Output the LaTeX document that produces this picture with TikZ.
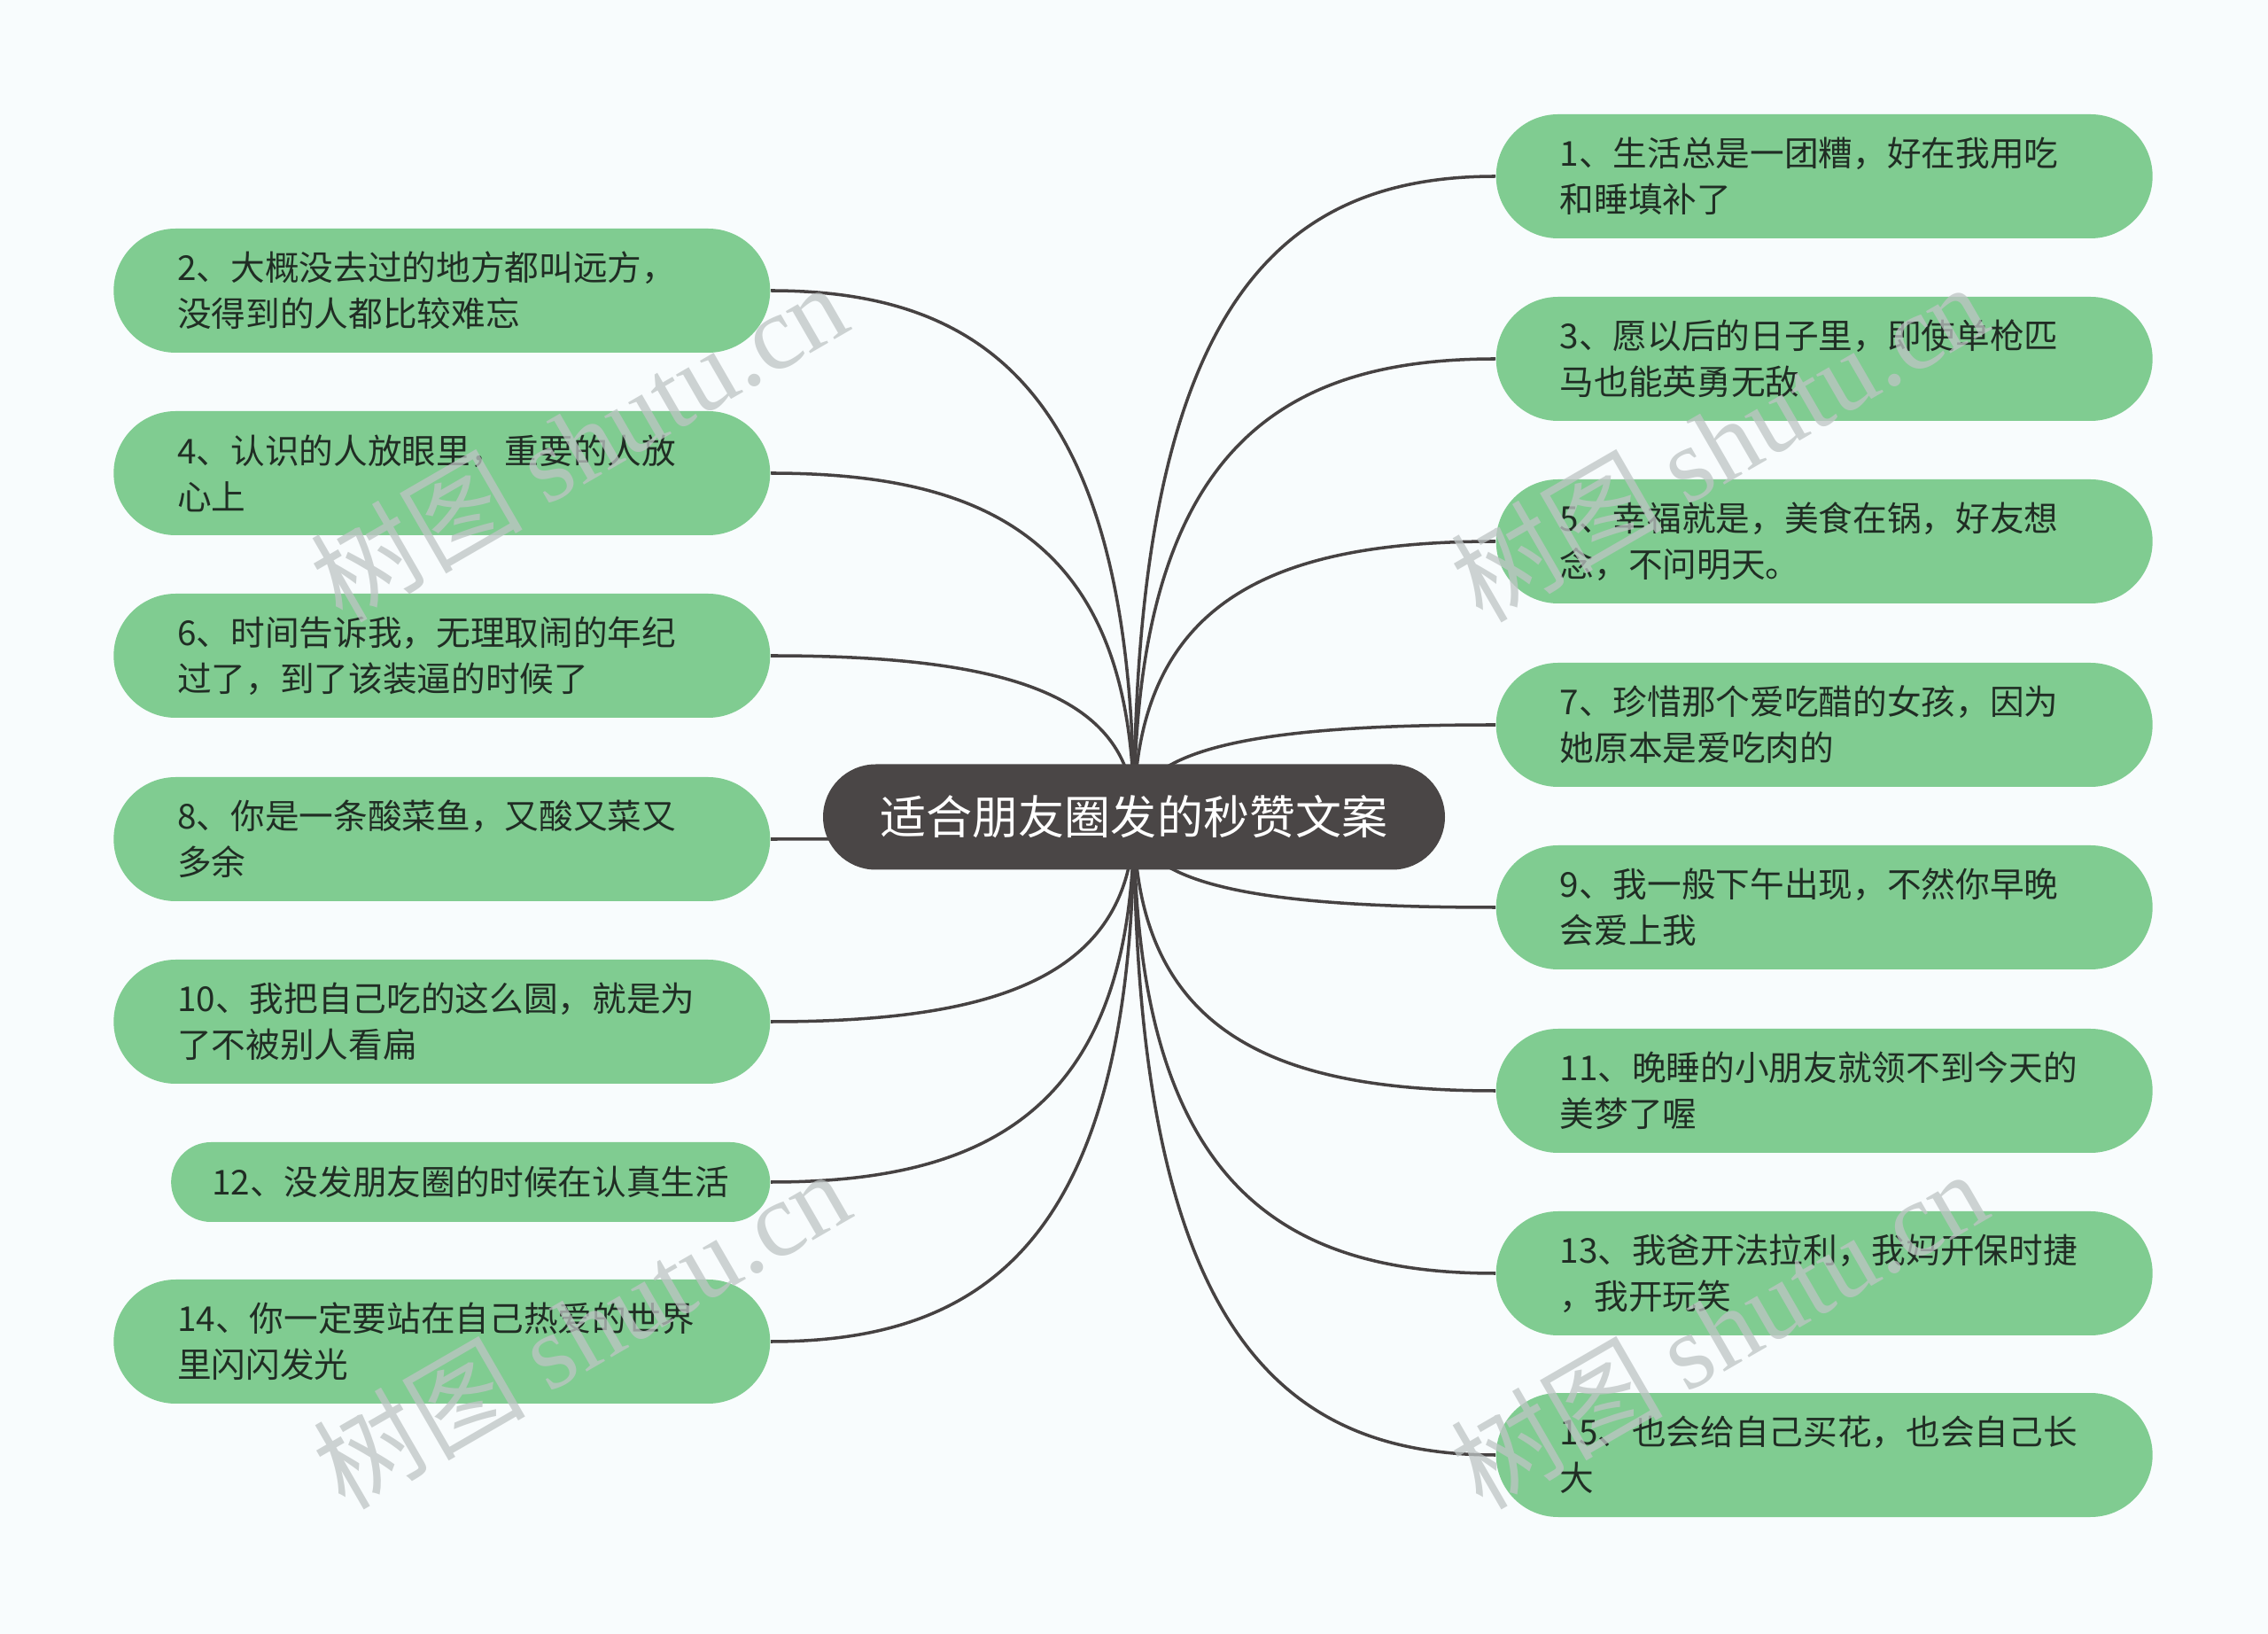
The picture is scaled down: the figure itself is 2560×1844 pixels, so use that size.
\documentclass[tikz,border=0pt]{standalone}
\usepackage{fontspec}
\setmainfont{Noto Sans CJK SC}
\newfontfamily\wmlatin{Liberation Serif}
\usepackage{tikz}
\usetikzlibrary{calc}
\definecolor{MapPaper}{RGB}{248, 252, 253}
\definecolor{MapGreen}{RGB}{128, 204, 145}
\definecolor{MapInk}{RGB}{32, 45, 36}
\definecolor{MapHub}{RGB}{74, 70, 70}
\definecolor{MapWire}{RGB}{70, 66, 66}
\definecolor{MapStamp}{RGB}{190, 196, 196}
\pgfdeclarelayer{paper}
\pgfdeclarelayer{wires}
\pgfsetlayers{paper,wires,main}
\tikzset{
  leaf/.style={fill=MapGreen, text=MapInk, rounded corners=7mm, minimum height=14mm,
    text width=59.7mm, inner xsep=7.2mm, inner ysep=0pt, align=left,
    font=\fontsize{11}{14.8}\selectfont},
  shortleaf/.style={fill=MapGreen, text=MapInk, rounded corners=4.5mm, minimum height=9mm,
    inner xsep=4.6mm, inner ysep=0pt, font=\fontsize{11}{14.8}\selectfont},
  hub/.style={fill=MapHub, text=white, rounded corners=5.95mm, minimum width=70.2mm,
    minimum height=11.9mm, font=\fontsize{14.8}{18}\selectfont},
  wire/.style={MapWire, line width=1pt},
  stamp/.style={MapStamp, opacity=0.75, rotate=30, font=\fontsize{34}{34}\selectfont}
}
\begin{document}
\begin{tikzpicture}[x=0.1mm,y=-0.1mm]
  \useasboundingbox (0,0) rectangle (2560,1844);
  \begin{pgfonlayer}{paper}
    \fill[MapPaper] (0,0) rectangle (2560,1844);
  \end{pgfonlayer}

  \node[hub] (hub) at (1280,922) {适合朋友圈发的秒赞文案};

  % right side
  \node[leaf, anchor=west] (r1) at (1688,199) {1、生活总是一团糟，好在我用吃\\和睡填补了};
  \node[leaf, anchor=west] (r3) at (1688,405) {3、愿以后的日子里，即使单枪匹\\马也能英勇无敌};
  \node[leaf, anchor=west] (r5) at (1688,611) {5、幸福就是，美食在锅，好友想\\念，不问明天。};
  \node[leaf, anchor=west] (r7) at (1688,818) {7、珍惜那个爱吃醋的女孩，因为\\她原本是爱吃肉的};
  \node[leaf, anchor=west] (r9) at (1688,1024) {9、我一般下午出现，不然你早晚\\会爱上我};
  \node[leaf, anchor=west] (r11) at (1688,1231) {11、晚睡的小朋友就领不到今天的\\美梦了喔};
  \node[leaf, anchor=west] (r13) at (1688,1437) {13、我爸开法拉利，我妈开保时捷\\，我开玩笑};
  \node[leaf, anchor=west] (r15) at (1688,1642) {15、也会给自己买花，也会自己长\\大};

  % left side
  \node[leaf, anchor=east] (l2) at (870,328) {2、大概没去过的地方都叫远方，\\没得到的人都比较难忘};
  \node[leaf, anchor=east] (l4) at (870,534) {4、认识的人放眼里，重要的人放\\心上};
  \node[leaf, anchor=east] (l6) at (870,740) {6、时间告诉我，无理取闹的年纪\\过了，到了该装逼的时候了};
  \node[leaf, anchor=east] (l8) at (870,947) {8、你是一条酸菜鱼，又酸又菜又\\多余};
  \node[leaf, anchor=east] (l10) at (870,1153) {10、我把自己吃的这么圆，就是为\\了不被别人看扁};
  \node[shortleaf, anchor=east] (l12) at (870,1334) {12、没发朋友圈的时候在认真生活};
  \node[leaf, anchor=east] (l14) at (870,1514) {14、你一定要站在自己热爱的世界\\里闪闪发光};

  \begin{pgfonlayer}{wires}
    \foreach \leafname in {r1,r3,r5,r7,r9,r11,r13,r15}
      \draw[wire] let \p1=(hub.center), \p2=(\leafname.west) in
        (\p1) .. controls (\x1,{\y1+0.8*(\y2-\y1)}) and ({\x1+0.4*(\x2-\x1)},\y2) .. (\p2);
    \foreach \leafname in {l2,l4,l6,l8,l10,l12,l14}
      \draw[wire] let \p1=(hub.center), \p2=(\leafname.east) in
        (\p1) .. controls (\x1,{\y1+0.8*(\y2-\y1)}) and ({\x1+0.4*(\x2-\x1)},\y2) .. (\p2);
  \end{pgfonlayer}

  % watermark
  \node[stamp] (wm1) at (653,498) {树图 {\wmlatin shutu.cn}};
  \node[stamp] (wm2) at (1940,498) {树图 {\wmlatin shutu.cn}};
  \node[stamp] (wm3) at (656,1499) {树图 {\wmlatin shutu.cn}};
  \node[stamp] (wm4) at (1940,1499) {树图 {\wmlatin shutu.cn}};
\end{tikzpicture}
\end{document}
